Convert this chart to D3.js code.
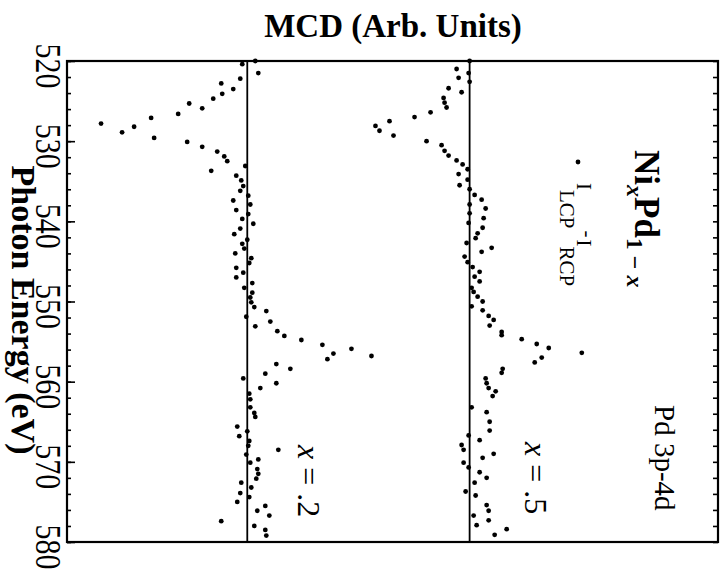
<!DOCTYPE html>
<html>
<head>
<meta charset="utf-8">
<script src="https://cdn.jsdelivr.net/npm/d3@7"></script>
<style>
  html, body { margin: 0; padding: 0; background: #fff; }
  svg { display: block; }
  text { font-family: "Liberation Serif", "Times New Roman", serif; fill: #000; }
</style>
</head>
<body>
<svg id="chart" width="728" height="574"></svg>
<script>
// Photon energy (eV) and MCD signal for Ni(x)Pd(1-x), x = .2
const energyA = [520.0,520.4,521.5,522.2,522.8,523.5,524.1,524.7,525.3,525.9,526.6,527.1,527.8,528.2,528.9,529.6,530.1,530.7,531.3,531.9,532.5,533.1,533.7,534.3,534.9,535.6,536.2,536.8,537.4,537.9,538.6,539.1,539.7,540.3,540.9,541.6,542.3,542.8,543.4,544.0,544.6,545.2,545.8,546.4,547.0,547.7,548.3,548.9,549.5,550.1,550.7,551.2,551.9,552.5,553.1,553.7,554.3,554.8,555.4,555.9,556.5,556.8,557.2,557.8,558.4,559.0,559.6,560.2,560.8,561.5,562.2,563.2,563.9,564.4,565.6,566.2,566.8,567.4,568.0,568.5,569.1,569.7,570.1,570.9,571.5,572.1,572.6,573.2,573.9,574.4,575.0,575.5,576.1,576.7,577.4,578.0,578.5,579.2];
const mcdA = [0.08,-0.05,0.11,-0.07,-0.26,-0.14,-0.25,-0.34,-0.58,-0.45,-0.69,-0.96,-1.46,-1.13,-1.25,-0.93,-0.60,-0.45,-0.30,-0.23,-0.20,-0.02,-0.36,-0.11,-0.06,-0.04,-0.07,0.01,-0.14,0.03,-0.11,0.01,-0.05,0.06,-0.07,-0.13,0.00,-0.05,-0.03,-0.12,0.04,0.02,-0.11,-0.04,-0.11,0.05,-0.03,0.05,0.03,0.04,0.07,0.19,-0.01,0.23,0.08,0.30,0.37,0.54,0.75,1.04,0.86,1.24,0.80,0.29,0.43,0.18,-0.04,0.29,0.13,0.02,0.03,0.03,0.07,0.08,-0.10,0.00,-0.08,0.02,0.01,0.31,-0.01,0.11,0.03,0.10,0.11,0.09,-0.06,0.04,-0.07,0.02,-0.10,0.18,0.10,0.22,-0.26,0.07,0.18,0.19];

// Photon energy (eV) and MCD signal for Ni(x)Pd(1-x), x = .5
const energyB = [520.0,521.0,521.5,522.1,522.6,523.4,523.9,524.6,525.2,525.8,526.4,527.0,527.5,528.1,528.7,529.3,530.0,530.5,531.2,531.8,532.4,532.9,533.5,534.1,534.8,535.5,536.0,536.7,537.3,537.9,538.4,539.0,539.6,540.2,540.8,541.5,542.1,542.7,543.3,543.8,544.4,545.1,545.7,546.3,546.9,547.5,548.3,548.8,549.4,550.0,550.6,551.1,551.8,552.3,553.0,553.8,554.2,554.7,555.3,555.8,556.4,557.0,557.6,558.4,558.9,559.6,560.2,560.8,561.2,561.8,563.2,563.8,565.0,566.1,566.7,567.3,567.9,568.5,569.0,569.5,570.1,570.7,571.3,572.0,572.6,573.7,574.2,575.4,576.1,576.7,577.3,577.9,578.4,579.1];
const mcdB = [0.00,-0.13,-0.01,-0.11,0.00,-0.21,-0.08,-0.26,-0.25,-0.23,-0.39,-0.55,-0.80,-0.94,-0.90,-0.76,-0.43,-0.28,-0.25,-0.21,-0.13,-0.07,-0.02,-0.11,-0.02,-0.10,0.00,0.05,0.12,0.00,0.16,0.00,0.14,-0.01,0.13,0.08,0.06,-0.03,0.22,0.12,-0.05,-0.02,0.03,0.10,0.05,0.10,0.02,0.04,0.08,0.13,0.02,0.13,0.19,0.24,0.20,0.32,0.32,0.52,0.67,0.79,1.12,0.72,0.65,0.33,0.32,0.16,0.17,0.19,0.26,0.23,0.02,0.17,0.20,0.20,-0.01,0.10,-0.08,-0.06,0.24,0.13,-0.06,-0.01,0.10,0.17,0.05,-0.04,0.06,0.17,0.19,0.04,0.19,0.07,0.37,0.25];

// Curves are stacked side by side: each one is drawn about its own zero line
const seriesOffsets = [0, 2.22];
const seriesLabels = [".2", ".5"];

// Energy axis labels
const energyTicks = [520, 530, 540, 550, 560, 570, 580];

const svg = d3.select("#chart");
const frame = { left: 67, right: 718, top: 61, bottom: 542 };

// Energy runs down the page, MCD runs across
const yE = d3.scaleLinear().domain([520, 580]).range([frame.top, frame.bottom]);
const xM = d3.scaleLinear().domain([-1.8, 4.7]).range([frame.left, frame.right]);

const minorTicks = d3.range(520, 581, 2);

// Left axis: inward ticks, long at labelled energies
svg.append("g")
  .attr("transform", `translate(${frame.left},0)`)
  .call(d3.axisLeft(yE).tickValues(minorTicks).tickSizeInner(-4).tickSizeOuter(0).tickFormat(""))
  .call(g => g.select(".domain").remove())
  .selectAll("line").attr("stroke", "#000").attr("stroke-width", 1.6);
svg.append("g")
  .attr("transform", `translate(${frame.left},0)`)
  .call(d3.axisLeft(yE).tickValues(energyTicks).tickSizeInner(-8).tickSizeOuter(0).tickFormat(""))
  .call(g => g.select(".domain").remove())
  .selectAll("line").attr("stroke", "#000").attr("stroke-width", 1.6);

// Right axis: short inward ticks
svg.append("g")
  .attr("transform", `translate(${frame.right},0)`)
  .call(d3.axisRight(yE).tickValues(minorTicks).tickSizeInner(-5).tickSizeOuter(0).tickFormat(""))
  .call(g => g.select(".domain").remove())
  .selectAll("line").attr("stroke", "#000").attr("stroke-width", 1.6);

// Frame
svg.append("rect")
  .attr("x", frame.left).attr("y", frame.top)
  .attr("width", frame.right - frame.left).attr("height", frame.bottom - frame.top)
  .attr("fill", "none").attr("stroke", "#000").attr("stroke-width", 2.2);

// Energy tick labels, turned to read downward
svg.append("g").selectAll("text")
  .data(energyTicks)
  .join("text")
  .attr("transform", d => `translate(36,${yE(d) + 5}) rotate(90) scale(1,1.2)`)
  .attr("text-anchor", "middle")
  .attr("font-size", 30)
  .text(d => d);

// Axis title
svg.append("text")
  .attr("transform", `translate(12,310) rotate(90)`)
  .attr("text-anchor", "middle")
  .attr("font-size", 34)
  .attr("font-weight", "bold")
  .text("Photon Energy (eV)");

// Chart title
svg.append("text")
  .attr("x", 393).attr("y", 37)
  .attr("text-anchor", "middle")
  .attr("font-size", 33)
  .attr("font-weight", "bold")
  .text("MCD (Arb. Units)");

// Zero lines for each curve
svg.append("g").selectAll("line")
  .data(seriesOffsets)
  .join("line")
  .attr("x1", d => xM(d)).attr("x2", d => xM(d))
  .attr("y1", frame.top).attr("y2", frame.bottom)
  .attr("stroke", "#000").attr("stroke-width", 1.8);

// Data points
const series = [
  { e: energyA, m: mcdA, off: seriesOffsets[0] },
  { e: energyB, m: mcdB, off: seriesOffsets[1] }
];
series.forEach(s => {
  svg.append("g").selectAll("circle")
    .data(s.e.map((e, i) => ({ e, m: s.m[i] })))
    .join("circle")
    .attr("cx", d => xM(d.m + s.off))
    .attr("cy", d => yE(d.e))
    .attr("r", 2.4)
    .attr("fill", "#000");
});

// Curve labels: x = .2 and x = .5
const curveLabelPos = [{ x: 298, y: 445 }, { x: 525, y: 442 }];
seriesLabels.forEach((lab, i) => {
  const t = svg.append("text")
    .attr("transform", `translate(${curveLabelPos[i].x},${curveLabelPos[i].y}) rotate(90)`)
    .attr("font-size", 32);
  t.append("tspan").attr("font-style", "italic").text("x");
  t.append("tspan").text(" = " + lab);
});

// Compound name Ni_x Pd_(1-x)
const comp = svg.append("text")
  .attr("transform", `translate(635,150) rotate(90)`)
  .attr("font-size", 35)
  .attr("font-weight", "bold");
comp.append("tspan").text("Ni");
comp.append("tspan").attr("dy", 8).attr("font-size", 24).attr("font-style", "italic").text("x");
comp.append("tspan").attr("dy", -8).text("Pd");
comp.append("tspan").attr("dy", 8).attr("font-size", 24).text("1 \u2212 ");
comp.append("tspan").attr("font-size", 24).attr("font-style", "italic").text("x");

// Legend: marker and I_LCP - I_RCP
svg.append("circle").attr("cx", 578).attr("cy", 162).attr("r", 2.4).attr("fill", "#000");
const leg = svg.append("text")
  .attr("transform", `translate(577,183) rotate(90)`)
  .attr("font-size", 21);
leg.append("tspan").text("I");
leg.append("tspan").attr("dy", 17).text("LCP");
leg.append("tspan").attr("dy", -21).attr("dx", 2).text("-");
leg.append("tspan").attr("dy", 4).attr("dx", 2).text("I");
leg.append("tspan").attr("dy", 17).text("RCP");

// Edge label
svg.append("text")
  .attr("transform", `translate(655,405) rotate(90)`)
  .attr("font-size", 29)
  .text("Pd 3p-4d");
</script>
</body>
</html>
